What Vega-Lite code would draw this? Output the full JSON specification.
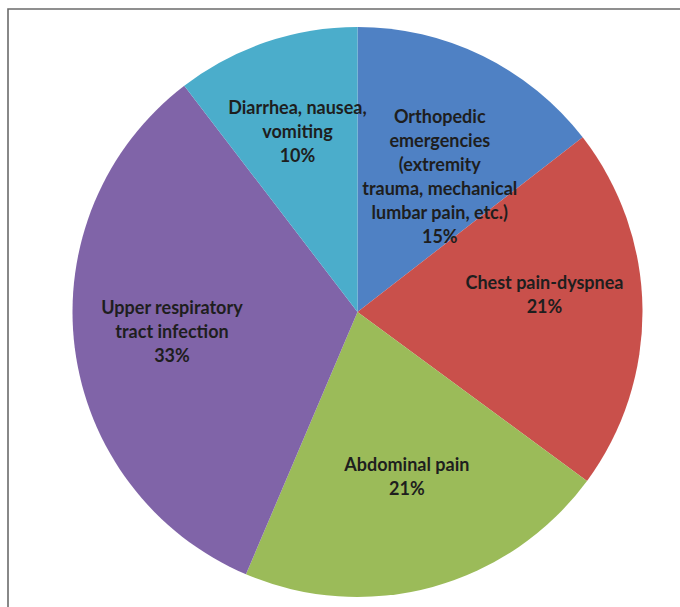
{
  "$schema": "https://vega.github.io/schema/vega-lite/v6.json",
  "width": 699,
  "height": 606,
  "padding": {"left": 8, "top": 9, "right": 0, "bottom": 0},
  "autosize": {"type": "none"},
  "background": "#ffffff",
  "view": {"stroke": "#6b6b6b", "strokeWidth": 1.6},
  "config": {"view": {"stroke": "#6b6b6b", "strokeWidth": 1.6}},
  "data": {
    "values": [
      {"category": "Orthopedic emergencies (extremity trauma, mechanical lumbar pain, etc.)", "value": 14.5, "label": "Orthopedic\nemergencies\n(extremity\ntrauma, mechanical\nlumbar pain, etc.)\n15%"},
      {"category": "Chest pain-dyspnea", "value": 20.6, "label": "Chest pain-dyspnea\n21%"},
      {"category": "Abdominal pain", "value": 21.3, "label": "Abdominal pain\n21%"},
      {"category": "Upper respiratory tract infection", "value": 33.2, "label": "Upper respiratory\ntract infection\n33%"},
      {"category": "Diarrhea, nausea, vomiting", "value": 10.4, "label": "Diarrhea, nausea,\nvomiting\n10%"}
    ]
  },
  "transform": [{"window": [{"op": "row_number", "as": "idx"}]}],
  "encoding": {
    "theta": {"field": "value", "type": "quantitative", "stack": true},
    "order": {"field": "idx", "type": "quantitative"}
  },
  "layer": [
    {
      "mark": {"type": "arc", "outerRadius": 285},
      "encoding": {
        "color": {
          "field": "category",
          "type": "nominal",
          "legend": null,
          "sort": null,
          "scale": {
            "domain": ["Orthopedic emergencies (extremity trauma, mechanical lumbar pain, etc.)", "Chest pain-dyspnea", "Abdominal pain", "Upper respiratory tract infection", "Diarrhea, nausea, vomiting"],
            "range": ["#4F81C4", "#C9504B", "#9BBB59", "#8064A8", "#4BADCB"]
          }
        }
      }
    },
    {
      "mark": {
        "type": "text",
        "radius": 187,
        "dy": -26,
        "font": "Lato",
        "fontWeight": "bold",
        "fontSize": 18,
        "lineHeight": 24,
        "lineBreak": "\n",
        "align": "center",
        "baseline": "middle",
        "fill": "#1e1e1e"
      },
      "encoding": {
        "text": {"field": "label", "type": "nominal"}
      }
    }
  ]
}
